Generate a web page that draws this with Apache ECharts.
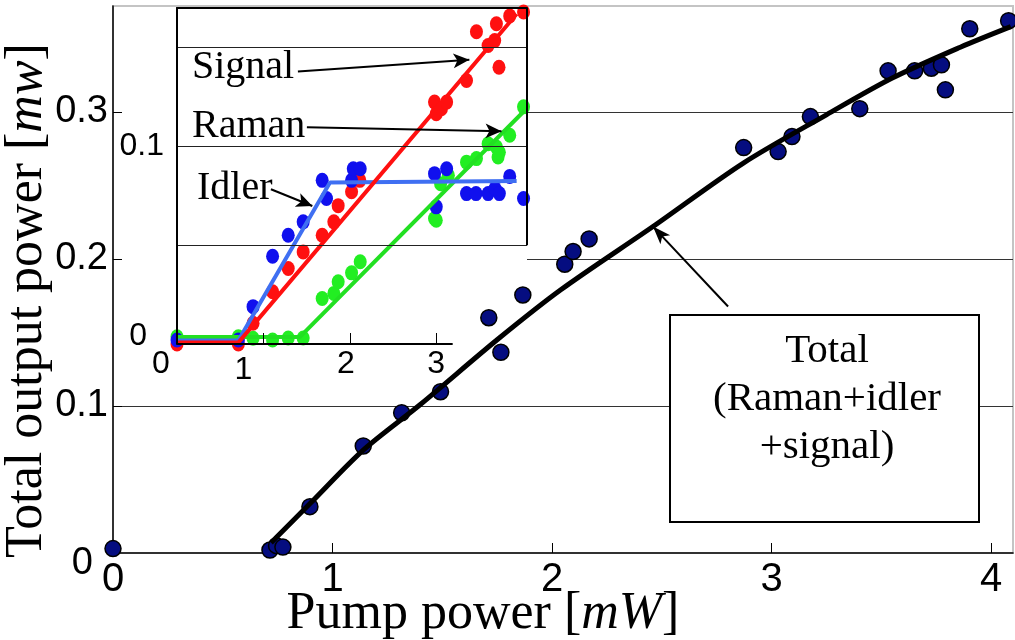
<!DOCTYPE html>
<html><head><meta charset="utf-8">
<script src="https://cdn.jsdelivr.net/npm/echarts@6/dist/echarts.min.js"></script>
<style>html,body{margin:0;padding:0;background:#fff}#c{width:1015px;height:640px}</style>
</head><body><div id="c"></div>
<script>
// ---------- main chart data ----------
const totalX = [0, 0.715, 0.745, 0.774, 0.897, 1.14, 1.315, 1.492, 1.767, 1.712, 1.867, 2.058, 2.096, 2.169, 2.873, 3.03, 3.093, 3.177, 3.402, 3.531, 3.652, 3.728, 3.774, 3.792, 3.903, 4.08];
const totalY = [0.003, 0.002, 0.005, 0.004, 0.0315, 0.0728, 0.0954, 0.1097, 0.1365, 0.160, 0.1755, 0.1964, 0.205, 0.2136, 0.2757, 0.273, 0.2832, 0.2968, 0.3022, 0.3279, 0.3279, 0.3297, 0.332, 0.315, 0.3565, 0.362];
const totalFitX = [0.72, 0.9, 1.14, 1.4, 1.75, 2.04, 2.46, 2.87, 3.25, 3.55, 3.86, 4.09];
const totalFitY = [0.007, 0.034, 0.070, 0.101, 0.145, 0.179, 0.222, 0.265, 0.298, 0.323, 0.344, 0.358];
const mainXTicks = [0, 1, 2, 3, 4];
const mainYTicks = [0, 0.1, 0.2, 0.3];

// ---------- inset data ----------
const signalX = [0, 0.71, 0.88, 1.106, 1.287, 1.46, 1.68, 1.815, 1.865, 2.02, 2.115, 2.98, 3.0, 3.06, 3.12, 3.35, 3.465, 3.60, 3.676, 3.726, 3.696, 3.85, 4.01];
const signalY = [0, 0, 0.0105, 0.0264, 0.0382, 0.0466, 0.055, 0.0618, 0.070, 0.077, 0.0828, 0.1224, 0.1165, 0.119, 0.1224, 0.1333, 0.158, 0.151, 0.1535, 0.140, 0.162, 0.166, 0.168];
const ramanX = [0, 0.71, 0.88, 1.106, 1.287, 1.46, 1.68, 1.815, 1.865, 2.02, 2.12, 2.98, 3.0, 3.05, 3.14, 3.35, 3.465, 3.60, 3.696, 3.715, 3.73, 3.85, 4.01];
const ramanY = [0.0037, 0.0037, 0.0029, 0.002, 0.003, 0.003, 0.023, 0.0256, 0.0315, 0.036, 0.0416, 0.0635, 0.0626, 0.0811, 0.0854, 0.092, 0.0938, 0.1013, 0.0997, 0.0946, 0.097, 0.1056, 0.12];
const idlerX = [0, 0.71, 0.88, 1.106, 1.287, 1.46, 1.68, 1.73, 2.02, 2.04, 2.12, 2.98, 3.0, 3.12, 3.35, 3.46, 3.60, 3.68, 3.73, 3.85, 4.01];
const idlerY = [0.002, 0.002, 0.0189, 0.0444, 0.055, 0.0618, 0.0828, 0.0736, 0.0828, 0.0887, 0.0887, 0.0862, 0.0694, 0.0887, 0.0761, 0.0761, 0.0761, 0.0786, 0.0761, 0.0848, 0.0736];
const signalFitX = [0, 0.71, 3.93];
const signalFitY = [0.0007, 0.0007, 0.167];
const ramanFitX = [0, 1.42, 4.02];
const ramanFitY = [0.0035, 0.0035, 0.118];
const idlerFitX = [0, 0.71, 1.77, 3.93];
const idlerFitY = [0.0018, 0.0018, 0.0817, 0.0825];
const insetXTicks = [0, 1, 2, 3];
const insetYTicks = [0, 0.1];

const zip = (xs, ys) => xs.map((x, i) => [x, ys[i]]);
const SERIF = '"Liberation Serif", "Times New Roman", serif';
const SANS = '"Liberation Sans", Arial, sans-serif';

const chart = echarts.init(document.getElementById('c'), null, {renderer: 'canvas'});

const insetMaxX = 4.05, insetMaxY = 0.17;
const arrowEnd = (c) => ({coord: c, symbol: 'arrow', symbolSize: [11, 16]});
const arrowStart = (c) => ({coord: c, symbol: 'none'});

const option = {
  animation: false,
  backgroundColor: '#fff',
  grid: [
    {left: 113, right: 2, top: 6, bottom: 87, outerBoundsMode: 'none', containLabel: false, show: true, borderColor: '#c4c4c4', borderWidth: 2, backgroundColor: 'transparent'},
    {left: 177, top: 8, width: 350, height: 336, outerBoundsMode: 'none', containLabel: false, show: false}
  ],
  xAxis: [
    {
      gridIndex: 0, type: 'value', min: 0, max: 4.1, interval: 1,
      axisLine: {lineStyle: {color: '#000', width: 1.5}},
      axisTick: {inside: true, length: 10, customValues: [1, 2, 3, 4], lineStyle: {color: '#000', width: 1}},
      axisLabel: {customValues: mainXTicks, fontSize: 40, fontFamily: SANS, color: '#000', margin: 7},
      splitLine: {show: false},
      name: 'Pump power [{i|mW}]', nameLocation: 'middle', nameGap: 35, nameMoveOverlap: false,
      nameTextStyle: {fontFamily: SERIF, fontSize: 52, color: '#000', padding: [0, 160, 0, 0],
        rich: {i: {fontFamily: SERIF, fontSize: 52, fontStyle: 'italic', color: '#000'}}}
    },
    {
      gridIndex: 1, type: 'value', min: 0, max: insetMaxX, interval: 1, z: 5,
      axisLine: {show: false},
      axisTick: {show: true, inside: true, length: 11, customValues: [1, 2, 3], lineStyle: {color: '#000', width: 1}},
      axisLabel: {
        customValues: insetXTicks, fontSize: 32, fontFamily: SANS, color: '#000', margin: 4,
        formatter: v => v === 0 ? '{a|0}' : (v === 1 ? '{b|1}' : (v === 2 ? '{c|2}' : String(v))),
        rich: {
          a: {fontSize: 32, fontFamily: SANS, color: '#000', padding: [0, 32, 0, 0]},
          b: {fontSize: 32, fontFamily: SANS, color: '#000', padding: [6, 40, 0, 0]},
          c: {fontSize: 32, fontFamily: SANS, color: '#000', padding: [0, 8, 0, 0]}
        }
      },
      splitLine: {show: false}
    },
    {
      gridIndex: 1, type: 'value', min: 0, max: insetMaxX, position: 'top', z: 5,
      axisLine: {show: true, lineStyle: {color: '#000', width: 2}},
      axisTick: {show: false}, axisLabel: {show: false}, splitLine: {show: false}
    }
  ],
  yAxis: [
    {
      gridIndex: 0, type: 'value', min: 0, max: 0.372, interval: 0.1,
      axisLine: {show: true, lineStyle: {color: '#000', width: 1.5}},
      axisTick: {show: true, inside: true, length: 9, customValues: [0.1, 0.2, 0.3], lineStyle: {color: '#000', width: 1}},
      axisLabel: {
        customValues: mainYTicks, fontSize: 38, fontFamily: SANS, color: '#000', margin: 5,
        formatter: v => v === 0 ? '{z|0}' : String(Math.round(v * 10) / 10),
        rich: {z: {fontSize: 38, fontFamily: SANS, color: '#000', padding: [22, 15, 0, 0]}}
      },
      splitLine: {show: true, showMinLine: true, showMaxLine: true, lineStyle: {color: '#333', width: 1}},
      name: 'Total output power [{i|mw}]', nameLocation: 'middle', nameGap: 60, nameMoveOverlap: false,
      nameTextStyle: {fontFamily: SERIF, fontSize: 52, color: '#000', padding: [0, 42, 0, 0],
        rich: {i: {fontFamily: SERIF, fontSize: 52, fontStyle: 'italic', color: '#000'}}}
    },
    {
      gridIndex: 1, type: 'value', min: 0, max: insetMaxY, interval: 0.05, z: 5,
      axisLine: {show: true, lineStyle: {color: '#000', width: 2}},
      axisTick: {show: false},
      axisLabel: {
        customValues: insetYTicks, fontSize: 32, fontFamily: SANS, color: '#000', margin: 13,
        formatter: v => v === 0 ? '{z|0}' : '0.1',
        rich: {z: {fontSize: 32, fontFamily: SANS, color: '#000', padding: [0, 17, 16, 0]}}
      },
      splitLine: {show: true, showMinLine: false, showMaxLine: false, lineStyle: {color: '#222', width: 1}}
    }
  ],
  graphic: [
    {type: 'rect', z: 1, silent: true, shape: {x: 122, y: 9, width: 405, height: 380}, style: {fill: '#fff'}},
    {type: 'rect', z: 20, shape: {x: 670, y: 315, width: 309, height: 207}, style: {fill: '#fff', stroke: '#000', lineWidth: 2}},
    {type: 'text', z: 21, x: 827, y: 399, style: {text: 'Total\n(Raman+idler\n+signal)', font: '41px ' + SERIF, fill: '#000', align: 'center', verticalAlign: 'middle', lineHeight: 48}},
    {type: 'text', z: 21, x: 192, y: 67, style: {text: 'Signal', font: '40px ' + SERIF, fill: '#000', align: 'left', verticalAlign: 'middle'}},
    {type: 'text', z: 21, x: 192, y: 126, style: {text: 'Raman', font: '40px ' + SERIF, fill: '#000', align: 'left', verticalAlign: 'middle'}},
    {type: 'text', z: 21, x: 197, y: 188, style: {text: 'Idler', font: '40px ' + SERIF, fill: '#000', align: 'left', verticalAlign: 'middle'}}
  ],
  series: [
    {
      name: 'Total', type: 'scatter', xAxisIndex: 0, yAxisIndex: 0, z: 3,
      data: zip(totalX, totalY), symbolSize: 16,
      itemStyle: {color: '#050d80', borderColor: '#000', borderWidth: 1.5, opacity: 1},
      markLine: {
        silent: true, animation: false, label: {show: false},
        lineStyle: {color: '#000', width: 2, type: 'solid'},
        data: [[arrowStart([2.802, 0.1676]), {coord: [2.46, 0.222], symbol: 'arrow', symbolSize: [10, 18]}]]
      }
    },
    {
      name: 'Total fit', type: 'line', xAxisIndex: 0, yAxisIndex: 0, z: 4,
      data: zip(totalFitX, totalFitY), showSymbol: false, smooth: 0.3,
      lineStyle: {color: '#000', width: 5}
    },
    {name: 'Signal', type: 'scatter', xAxisIndex: 1, yAxisIndex: 1, data: zip(signalX, signalY), symbolSize: [13, 15], itemStyle: {color: '#ff1010', opacity: 1}},
    {name: 'Raman', type: 'scatter', xAxisIndex: 1, yAxisIndex: 1, data: zip(ramanX, ramanY), symbolSize: [13, 15], itemStyle: {color: '#22ee22', opacity: 1}},
    {name: 'Idler', type: 'scatter', xAxisIndex: 1, yAxisIndex: 1, data: zip(idlerX, idlerY), symbolSize: [13, 15], itemStyle: {color: '#1010ee', opacity: 1}},
    {name: 'Raman fit', type: 'line', xAxisIndex: 1, yAxisIndex: 1, data: zip(ramanFitX, ramanFitY), showSymbol: false, lineStyle: {color: '#22e022', width: 4}},
    {name: 'Idler fit', type: 'line', xAxisIndex: 1, yAxisIndex: 1, data: zip(idlerFitX, idlerFitY), showSymbol: false, lineStyle: {color: '#3f6ff2', width: 4}},
    {
      name: 'Signal fit', type: 'line', xAxisIndex: 1, yAxisIndex: 1, data: zip(signalFitX, signalFitY), showSymbol: false,
      lineStyle: {color: '#ff1010', width: 4},
      markLine: {
        silent: true, animation: false, label: {show: false}, symbol: 'none',
        lineStyle: {color: '#000', width: 2, type: 'solid'},
        data: [
          [{coord: [insetMaxX, 0.05], symbol: 'none'}, {coord: [insetMaxX, insetMaxY], symbol: 'none'}],
          [{coord: [0, 0], symbol: 'none'}, {coord: [3.19, 0], symbol: 'none'}],
          [arrowStart([1.399, 0.1379]), arrowEnd([3.383, 0.1438])],
          [arrowStart([1.503, 0.1097]), arrowEnd([3.755, 0.1077])],
          [arrowStart([1.087, 0.0783]), arrowEnd([1.566, 0.0698])]
        ]
      }
    }
  ]
};
chart.setOption(option);
</script>
</body></html>
